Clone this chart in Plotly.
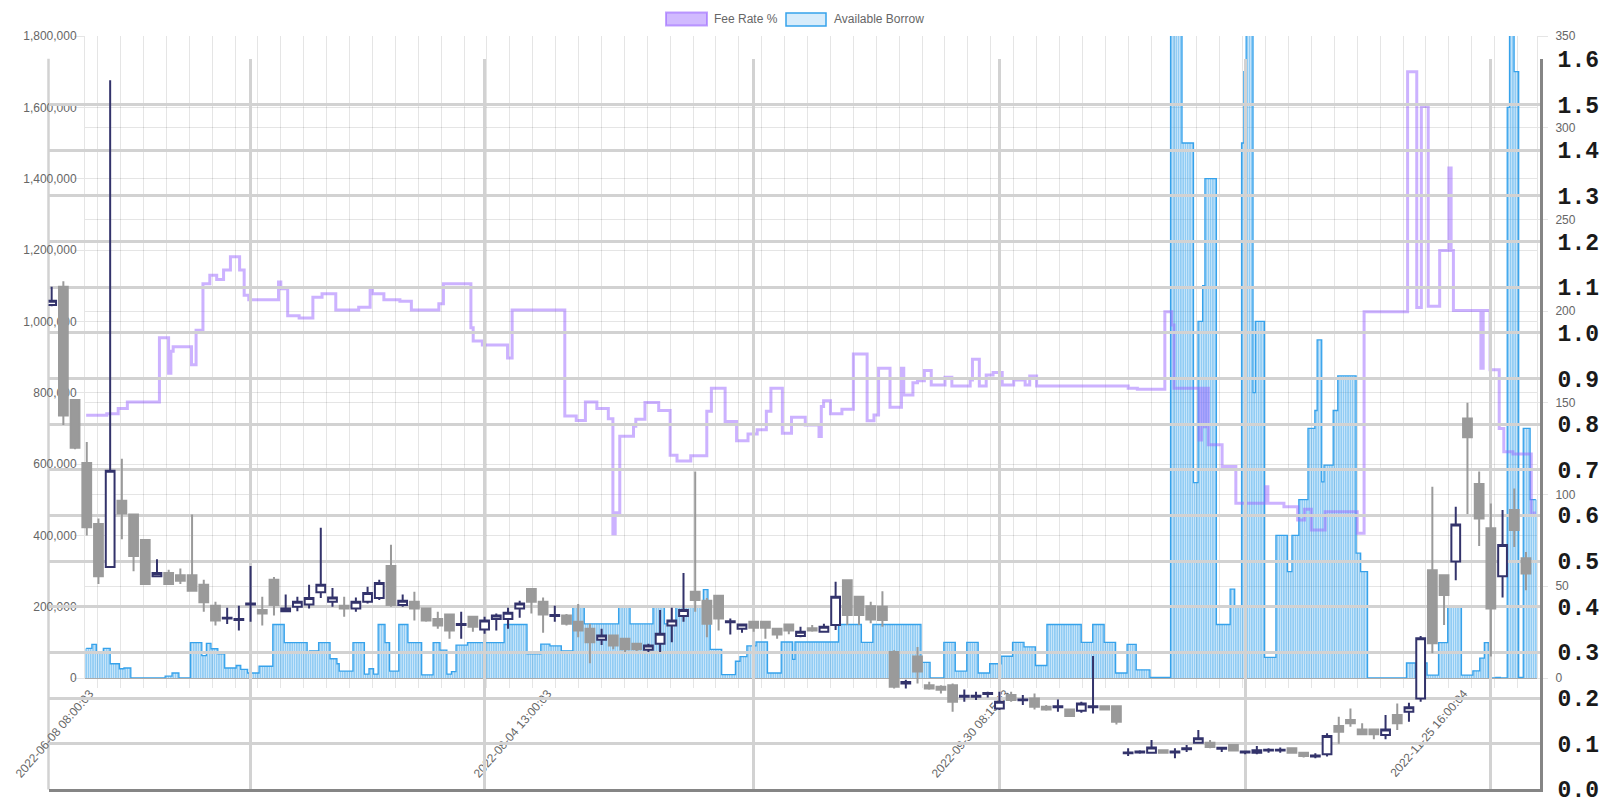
import numpy as np
import plotly.graph_objects as go

W, H = 1618, 807

# ---------------- Chart.js overlay data (category axis) ----------------
x_tick_labels = ["2022-06-08 08:00:03", "2022-08-04 13:00:03",
                 "2022-09-30 08:15:03", "2022-11-25 16:00:04"]
x_label_idx = [5, 205, 405, 605]

# Available Borrow: value of each run and number of consecutive samples
borrow_vals = [83000, 94000, 74000, 83000, 40000, 26000, 28000, 0, 5000, 14000, 0, 99000, 63000, 97000, 82000,
               68000, 28000, 35000, 24000, 14000, 33000, 150000, 99000, 73000, 76000, 99000, 54000, 40000, 19000,
               99000, 11000, 26000, 11000, 150000, 99000, 19000, 150000, 99000, 9000, 99000, 78000, 11000, 18000,
               92000, 99000, 150000, 68000, 95000, 90000, 76000, 202000, 152000, 202000, 152000, 202000, 152000,
               202000, 248000, 202000, 80000, 9500, 47000, 60000, 90000, 101000, 14000, 101000, 52000, 101000,
               150000, 100000, 150000, 44000, 0, 100000, 19000, 100000, 14000, 40000, 61000, 100000, 87000, 35000,
               150000, 100000, 150000, 100000, 14000, 94000, 23000, 2000, 1950000, 1500000, 548000, 1000000,
               1100000, 1400000, 150000, 249000, 200000, 1500000, 1700000, 1950000, 800000, 1000000, 58000, 400000,
               298000, 400000, 500000, 700000, 750000, 948000, 550000, 597000, 750000, 847000, 350000, 298000, 0,
               42000, 0, 42000, 8000, 99000, 200000, 8000, 20000, 56000, 99000, 0, 2000, 0, 1600000, 1950000,
               1700000, 2000, 700000, 500000]
borrow_counts = [3, 2, 3, 3, 4, 2, 3, 15, 3, 3, 5, 5, 2, 2, 3,
                 3, 5, 2, 3, 5, 6, 5, 10, 1, 4, 5, 3, 1, 6,
                 5, 2, 2, 2, 3, 2, 4, 4, 6, 5, 3, 3, 2, 2,
                 5, 16, 10, 6, 4, 5, 5, 5, 15, 5, 10, 5, 5,
                 12, 2, 1, 5, 6, 2, 3, 4, 5, 6, 5, 1, 19,
                 10, 5, 21, 4, 6, 5, 5, 5, 5, 5, 5, 5, 5, 5,
                 15, 5, 5, 5, 5, 4, 6, 9, 5, 5, 2, 2,
                 1, 5, 6, 2, 3, 1, 1, 3, 1, 4, 5, 5,
                 2, 3, 4, 3, 1, 2, 1, 4, 2, 8, 2, 3, 17,
                 4, 1, 4, 5, 4, 6, 5, 3, 2, 2, 3, 2, 3, 1, 2,
                 2, 2, 3, 3]

# Fee Rate %: sample index where the rate changed and the new rate
fee_idx = [0, 9, 14, 18, 32, 36, 37, 38, 46, 48, 51, 54, 57, 60, 63, 67, 69, 71, 84, 85, 88, 93, 99, 103,
           109, 119, 124, 125, 130, 137, 142, 154, 156, 168, 169, 173, 184, 186, 209, 214, 218, 223, 228,
           230, 231, 233, 239, 240, 244, 250, 255, 258, 264, 271, 273, 279, 284, 289, 293, 297, 299, 304,
           308, 314, 320, 321, 322, 325, 330, 335, 341, 344, 346, 351, 356, 357, 361, 363, 366, 369, 375,
           378, 386, 387, 390, 393, 396, 400, 405, 410, 412, 415, 455, 459, 471, 474, 475, 486, 487, 488,
           489, 490, 496, 502, 515, 516, 523, 529, 532, 535, 541, 555, 558, 577, 581, 583, 586, 591, 595,
           596, 597, 609, 610, 613, 617, 619, 623, 631, 633]
fee_vals = [143.2, 144.1, 146.9, 150.5, 185.5, 166.2, 178.2, 180.6, 170.8, 189.6, 215.0, 219.6, 217.2, 222.4,
            229.6, 222.4, 208.6, 206.2, 215.9, 212.2, 197.5, 196.2, 207.6, 209.5, 200.6, 202.1, 212.2, 209.5,
            206.2, 205.4, 200.6, 204.0, 215.0, 191.0, 183.7, 181.5, 174.5, 200.6, 142.8, 140.4, 150.5, 146.9,
            141.3, 78.7, 90.1, 131.8, 137.3, 141.0, 150.2, 145.9, 121.4, 118.3, 121.1, 145.4, 157.9, 139.9,
            129.3, 133.0, 135.4, 145.4, 157.9, 133.4, 142.1, 137.9, 131.6, 148.0, 151.2, 144.0, 146.5, 176.7,
            140.3, 143.4, 168.9, 147.6, 168.9, 154.3, 161.0, 162.1, 167.6, 159.8, 164.0, 159.2, 162.5, 173.8,
            159.2, 165.2, 166.5, 159.8, 162.5, 159.8, 164.7, 159.2, 158.0, 157.4, 199.7, 192.5, 158.0, 129.8,
            158.0, 137.0, 158.0, 127.1, 115.3, 95.3, 104.3, 95.3, 93.4, 86.2, 92.0, 80.7, 90.7, 78.9, 199.7,
            330.5, 202.0, 311.5, 202.6, 233.0, 278.0, 233.0, 200.3, 168.9, 200.3, 168.0, 136.0, 123.4, 122.1,
            90.0, 90.0]

# ---------------- background daily candles ----------------
candle_open = [1.061, 1.101, 0.853, 0.715, 0.581, 0.487, 0.632, 0.602, 0.546, 0.467, 0.474, 0.469, 0.469, 0.448,
               0.402, 0.374, 0.371, 0.405, 0.393, 0.459, 0.390, 0.400, 0.405, 0.432, 0.411, 0.402, 0.396, 0.411,
               0.419, 0.489, 0.404, 0.411, 0.396, 0.373, 0.383, 0.360, 0.378, 0.350, 0.373, 0.373, 0.396, 0.439,
               0.411, 0.380, 0.381, 0.367, 0.352, 0.328, 0.337, 0.330, 0.319, 0.306, 0.319, 0.359, 0.380, 0.433,
               0.413, 0.424, 0.366, 0.352, 0.367, 0.367, 0.352, 0.361, 0.336, 0.353, 0.345, 0.360, 0.458, 0.422,
               0.401, 0.400, 0.301, 0.232, 0.291, 0.228, 0.225, 0.228, 0.203, 0.203, 0.209, 0.177, 0.207, 0.195,
               0.199, 0.181, 0.180, 0.175, 0.172, 0.180, 0.182, 0.182, 0.079, 0.081, 0.080, 0.086, 0.081, 0.088,
               0.102, 0.102, 0.089, 0.097, 0.081, 0.080, 0.085, 0.085, 0.090, 0.080, 0.072, 0.077, 0.139, 0.152,
               0.131, 0.131, 0.119, 0.163, 0.170, 0.199, 0.480, 0.469, 0.499, 0.812, 0.669, 0.572, 0.467, 0.612,
               0.506]
candle_high = [1.101, 1.113, 0.855, 0.761, 0.593, 1.553, 0.724, 0.603, 0.546, 0.504, 0.481, 0.484, 0.602, 0.459,
               0.411, 0.398, 0.402, 0.489, 0.422, 0.465, 0.427, 0.422, 0.448, 0.573, 0.441, 0.422, 0.420, 0.444,
               0.459, 0.536, 0.427, 0.433, 0.396, 0.389, 0.384, 0.389, 0.379, 0.378, 0.385, 0.398, 0.413, 0.440,
               0.420, 0.402, 0.384, 0.406, 0.363, 0.352, 0.338, 0.331, 0.320, 0.319, 0.393, 0.398, 0.474, 0.696,
               0.419, 0.425, 0.374, 0.362, 0.368, 0.368, 0.353, 0.362, 0.356, 0.360, 0.363, 0.455, 0.460, 0.423,
               0.411, 0.434, 0.305, 0.240, 0.312, 0.236, 0.228, 0.232, 0.219, 0.214, 0.214, 0.214, 0.214, 0.207,
               0.210, 0.185, 0.197, 0.177, 0.192, 0.292, 0.184, 0.182, 0.090, 0.086, 0.108, 0.088, 0.090, 0.097,
               0.130, 0.108, 0.093, 0.098, 0.085, 0.095, 0.090, 0.092, 0.091, 0.081, 0.079, 0.123, 0.159, 0.177,
               0.145, 0.132, 0.163, 0.188, 0.190, 0.336, 0.663, 0.470, 0.619, 0.847, 0.696, 0.626, 0.612, 0.659,
               0.520]
candle_low = [1.058, 0.798, 0.745, 0.556, 0.450, 0.485, 0.548, 0.478, 0.449, 0.466, 0.449, 0.450, 0.434, 0.389,
              0.359, 0.362, 0.348, 0.367, 0.359, 0.381, 0.389, 0.390, 0.396, 0.419, 0.400, 0.378, 0.389, 0.407,
              0.415, 0.400, 0.400, 0.370, 0.367, 0.352, 0.330, 0.330, 0.345, 0.341, 0.348, 0.352, 0.376, 0.385,
              0.343, 0.367, 0.359, 0.333, 0.276, 0.316, 0.307, 0.301, 0.303, 0.301, 0.301, 0.322, 0.367, 0.389,
              0.333, 0.348, 0.339, 0.343, 0.345, 0.330, 0.330, 0.340, 0.333, 0.345, 0.343, 0.349, 0.360, 0.360,
              0.364, 0.356, 0.221, 0.221, 0.232, 0.218, 0.210, 0.170, 0.192, 0.196, 0.201, 0.174, 0.192, 0.185,
              0.175, 0.172, 0.170, 0.160, 0.168, 0.166, 0.174, 0.142, 0.073, 0.078, 0.078, 0.078, 0.068, 0.082,
              0.100, 0.090, 0.082, 0.083, 0.077, 0.077, 0.080, 0.080, 0.079, 0.070, 0.068, 0.072, 0.100, 0.137,
              0.120, 0.110, 0.110, 0.130, 0.148, 0.192, 0.298, 0.360, 0.458, 0.603, 0.533, 0.291, 0.420, 0.531,
              0.436]
candle_close = [1.070, 0.819, 0.748, 0.574, 0.467, 0.698, 0.604, 0.511, 0.450, 0.474, 0.450, 0.457, 0.435, 0.410,
                0.370, 0.376, 0.373, 0.407, 0.385, 0.404, 0.396, 0.411, 0.419, 0.448, 0.420, 0.396, 0.411, 0.430,
                0.452, 0.404, 0.413, 0.396, 0.370, 0.359, 0.348, 0.362, 0.356, 0.370, 0.381, 0.387, 0.407, 0.411,
                0.383, 0.382, 0.363, 0.348, 0.322, 0.337, 0.315, 0.307, 0.307, 0.315, 0.341, 0.370, 0.393, 0.415,
                0.363, 0.374, 0.368, 0.361, 0.354, 0.354, 0.339, 0.348, 0.345, 0.348, 0.356, 0.422, 0.382, 0.382,
                0.372, 0.371, 0.225, 0.235, 0.258, 0.221, 0.218, 0.192, 0.205, 0.205, 0.211, 0.192, 0.196, 0.197,
                0.181, 0.175, 0.182, 0.161, 0.188, 0.182, 0.175, 0.148, 0.081, 0.083, 0.092, 0.080, 0.083, 0.090,
                0.112, 0.093, 0.091, 0.085, 0.083, 0.086, 0.087, 0.087, 0.080, 0.073, 0.074, 0.117, 0.126, 0.145,
                0.121, 0.121, 0.131, 0.145, 0.180, 0.331, 0.320, 0.426, 0.580, 0.771, 0.593, 0.396, 0.535, 0.568,
                0.473]
month_start_idx = [17, 37, 60, 81, 102, 123]

# ---------------- build ----------------
borrow = np.repeat(borrow_vals, borrow_counts)
n = len(borrow)
cat = np.arange(n)
grid_idx = list(range(5, n, 10))
grid_text = [x_tick_labels[x_label_idx.index(g)] if g in x_label_idx else "" for g in grid_idx]

GRID = "rgba(0,0,0,0.1)"
TXT = "#666666"
FONT = "Liberation Sans, Arial, sans-serif"

fig = go.Figure()
fig.add_trace(go.Bar(x=cat, y=borrow, xaxis="x", yaxis="y",
                     marker=dict(color="rgba(54,162,235,0.55)", line=dict(width=0)),
                     showlegend=False, hoverinfo="skip"))
fig.add_trace(go.Scatter(x=cat, y=borrow, xaxis="x", yaxis="y", mode="lines",
                         line=dict(color="rgb(54,162,235)", width=1.3, shape="hvh"),
                         showlegend=False, hoverinfo="skip"))
fig.add_trace(go.Scatter(x=fee_idx, y=fee_vals, xaxis="x", yaxis="y2", mode="lines",
                         line=dict(color="rgba(153,102,255,0.5)", width=3, shape="hv"),
                         name="Fee Rate %", showlegend=False))
fig.add_trace(go.Candlestick(x=np.arange(len(candle_open)), open=candle_open, high=candle_high,
                             low=candle_low, close=candle_close, xaxis="x2", yaxis="y3",
                             increasing=dict(line=dict(color="#33336b", width=2), fillcolor="#ffffff"),
                             decreasing=dict(line=dict(color="#9a9a9a", width=2), fillcolor="#9a9a9a"),
                             whiskerwidth=0, showlegend=False))

fig.update_layout(
    width=W, height=H, margin=dict(l=0, r=0, t=0, b=0),
    paper_bgcolor="white", plot_bgcolor="rgba(0,0,0,0)",
    showlegend=False, bargap=0.2, boxgap=0.25, boxgroupgap=0,
    font=dict(family=FONT, size=12, color=TXT),
    xaxis=dict(domain=[85 / W, 1537 / W], anchor="y", range=[-0.5, n - 0.5],
               tickmode="array", tickvals=grid_idx, ticktext=grid_text, tickangle=-49,
               tickfont=dict(family=FONT, size=12, color=TXT),
               ticklabelshift=-8, ticklabelstandoff=-6,
               showgrid=True, gridcolor=GRID, gridwidth=1, ticks="outside", ticklen=9, tickcolor=GRID,
               showline=True, linecolor=GRID, zeroline=False, automargin=False),
    yaxis=dict(domain=[1 - 678 / H, 1 - 36 / H], anchor="x", range=[0, 1800000],
               tick0=0, dtick=200000, tickformat=",", tickfont=dict(family=FONT, size=12, color=TXT),
               ticklabelstandoff=-5,
               showgrid=True, gridcolor=GRID, ticks="outside", ticklen=10, tickcolor=GRID,
               zeroline=True, zerolinecolor="rgba(0,0,0,0.25)", zerolinewidth=1,
               showline=True, linecolor=GRID, automargin=False),
    yaxis2=dict(overlaying="y", side="right", anchor="x", range=[0, 350], tick0=0, dtick=50,
                tickfont=dict(family=FONT, size=12, color=TXT), ticklabelstandoff=5,
                showgrid=True, gridcolor=GRID, ticks="outside", ticklen=10, tickcolor=GRID,
                zeroline=False, showline=True, linecolor=GRID, automargin=False),
    xaxis2=dict(domain=[48.5 / W, 1540 / W], anchor="y3", range=[-0.27, 127.2],
                tickmode="array", tickvals=month_start_idx, showticklabels=False, ticks="",
                showgrid=True, gridcolor="#d2d2d2", gridwidth=2.5,
                showline=True, linecolor="#858585", linewidth=3, zeroline=False,
                rangeslider=dict(visible=False), automargin=False),
    yaxis3=dict(domain=[1 - 789.4 / H, 1 - 58.8 / H], anchor="x2", side="right", range=[0, 1.6],
                tick0=0, dtick=0.1, tickformat=".1f",
                tickfont=dict(family="Liberation Mono, DejaVu Sans Mono, monospace", size=23,
                              color="#1a1a1a", weight="bold"),
                showgrid=True, gridcolor="#d2d2d2", gridwidth=2.5,
                ticks="outside", ticklen=10, tickcolor="rgba(0,0,0,0)",
                showline=True, linecolor="#858585", linewidth=3, zeroline=False, automargin=False),
)

# left frame of the background price panel
fig.add_shape(type="line", xref="x2 domain", yref="y3 domain", x0=0, x1=0, y0=0, y1=1,
              line=dict(color="#d2d2d2", width=2.5), layer="below")

# Chart.js-style legend (boxes + labels)
def py(v):
    return 1 - v / H

fig.add_shape(type="rect", xref="paper", yref="paper", x0=666 / W, x1=707 / W, y0=py(25.5), y1=py(12.5),
              fillcolor="rgba(153,102,255,0.45)", line=dict(color="rgba(153,102,255,0.6)", width=2))
fig.add_annotation(xref="paper", yref="paper", x=712 / W, y=py(19), text="Fee Rate %", showarrow=False,
                   xanchor="left", yanchor="middle", font=dict(family=FONT, size=12, color=TXT))
fig.add_shape(type="rect", xref="paper", yref="paper", x0=786 / W, x1=826 / W, y0=py(26), y1=py(13),
              fillcolor="rgba(54,162,235,0.2)", line=dict(color="rgb(54,162,235)", width=1.5))
fig.add_annotation(xref="paper", yref="paper", x=832 / W, y=py(19), text="Available Borrow", showarrow=False,
                   xanchor="left", yanchor="middle", font=dict(family=FONT, size=12, color=TXT))

fig.write_html("out.html", config={"displayModeBar": False})

# remove the default page margin so the figure sits at the window's top-left corner
with open("out.html", "r", encoding="utf-8") as f:
    html = f.read()
html = html.replace("<body>", '<body style="margin:0;overflow:hidden">', 1)
with open("out.html", "w", encoding="utf-8") as f:
    f.write(html)
